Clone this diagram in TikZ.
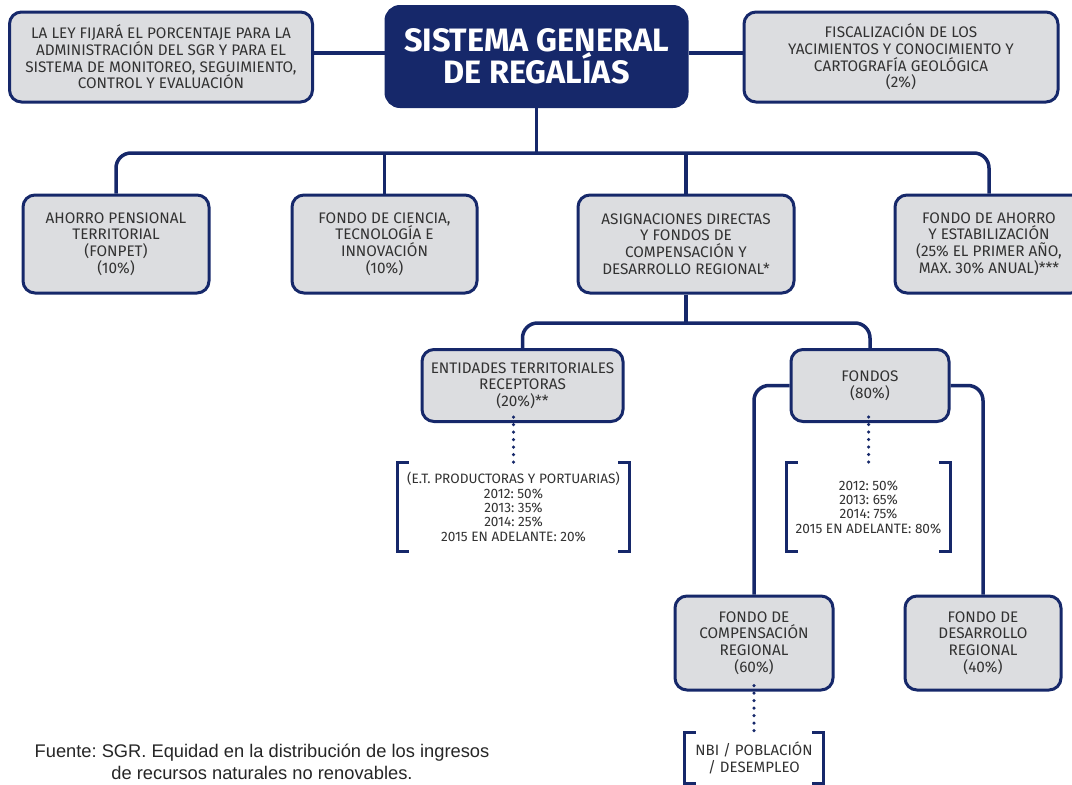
\documentclass[tikz,border=0pt]{standalone}
\usepackage{fontspec}
\setmainfont{Fira Sans}
\newfontfamily\fuentefont{Liberation Sans}
\definecolor{navy}{RGB}{22,40,106}
\definecolor{boxgray}{RGB}{220,221,224}
\definecolor{txt}{RGB}{50,50,50}
\tikzset{
  box/.style={draw=navy, line width=3pt, fill=boxgray, rounded corners=12pt,
    align=center, text=txt, inner sep=0pt, font=\fontsize{15.3}{16.6}\selectfont},
  titlebox/.style={draw=navy, line width=3pt, fill=navy, rounded corners=14pt,
    align=center, text=white, inner sep=0pt, font=\fontsize{32.4}{30.5}\selectfont\bfseries},
  conn/.style={draw=navy, line width=3.5pt},
  dotline/.style={draw=navy, line width=3.5pt, line cap=round, dash pattern=on 0pt off 7.5pt},
  brk/.style={draw=navy, line width=3pt},
  brnode/.style={inner sep=0pt, align=center, text=txt, font=\fontsize{13.6}{14.3}\selectfont}
}
\begin{document}
\frenchspacing
\begin{tikzpicture}[x=1pt,y=-1pt]
\useasboundingbox (0,0) rectangle (1072,785);
\clip (0,0) rectangle (1072,785);
\fill[white] (0,0) rectangle (1072,785);

% top row
\node[box, minimum width=303, minimum height=90] (ley) at (161,57)
  {LA LEY FIJARÁ EL PORCENTAJE PARA LA\\ADMINISTRACIÓN DEL SGR Y PARA EL\\SISTEMA DE MONITOREO, SEGUIMIENTO,\\CONTROL Y EVALUACIÓN};
\node[titlebox, minimum width=301, minimum height=100] (sgr) at (536.5,56.5)
  {SISTEMA GENERAL\\DE REGALÍAS};
\node[box, minimum width=314, minimum height=90] (fis) at (901,57)
  {FISCALIZACIÓN DE LOS\\YACIMIENTOS Y CONOCIMIENTO Y\\CARTOGRAFÍA GEOLÓGICA\\(2\%)};

% second row
\node[box, minimum width=186, minimum height=98] (aho) at (116,244)
  {AHORRO PENSIONAL\\TERRITORIAL\\(FONPET)\\(10\%)};
\node[box, minimum width=185, minimum height=98] (cie) at (384.5,244)
  {FONDO DE CIENCIA,\\TECNOLOGÍA E\\INNOVACIÓN\\(10\%)};
\node[box, minimum width=216, minimum height=98] (asi) at (686,244)
  {ASIGNACIONES DIRECTAS\\Y FONDOS DE\\COMPENSACIÓN Y\\DESARROLLO REGIONAL*};
\node[box, minimum width=188, minimum height=98] (fae) at (989,244)
  {FONDO DE AHORRO\\Y ESTABILIZACIÓN\\(25\% EL PRIMER AÑO,\\MAX. 30\% ANUAL)***};

% third row
\node[box, minimum width=201, minimum height=72] (ent) at (522.5,385.5)
  {ENTIDADES TERRITORIALES\\RECEPTORAS\\(20\%)**};
\node[box, minimum width=158, minimum height=72] (fon) at (870,385.5)
  {FONDOS\\(80\%)};

% brackets
\node[brnode, minimum width=231, minimum height=88] (etb) at (513.5,507)
  {(E.T. PRODUCTORAS Y PORTUARIAS)\\2012: 50\%\\2013: 35\%\\2014: 25\%\\2015 EN ADELANTE: 20\%};
\node[brnode, minimum width=163, minimum height=88] (fob) at (868.5,507)
  {2012: 50\%\\2013: 65\%\\2014: 75\%\\2015 EN ADELANTE: 80\%};

% fourth row
\node[box, minimum width=158, minimum height=94] (fcr) at (754,643)
  {FONDO DE\\COMPENSACIÓN\\REGIONAL\\(60\%)};
\node[box, minimum width=156, minimum height=94] (fdr) at (983,643)
  {FONDO DE\\DESARROLLO\\REGIONAL\\(40\%)};
\node[brnode, minimum width=138, minimum height=50, font=\fontsize{15}{16.5}\selectfont] (nbi) at (754,758)
  {NBI / POBLACIÓN\\/ DESEMPLEO};

% source
\node[align=center, inner sep=0pt, text=black!85, font=\fuentefont\fontsize{18.3}{22}\selectfont] (src) at (262,762)
  {Fuente: SGR. Equidad en la distribución de los ingresos\\de recursos naturales no renovables.};

% connectors top
\coordinate (cy) at (0,53);
\draw[conn] (ley.east |- cy) -- (sgr.west |- cy);
\draw[conn] (sgr.east |- cy) -- (fis.west |- cy);
\coordinate (bar1) at (536.5,153);
\draw[conn] (sgr.south) -- (bar1);
\draw[conn, rounded corners=15pt] (aho.north) |- (bar1) -| (fae.north);
\draw[conn] (cie.north) -- (cie.north |- bar1);
\draw[conn] (asi.north) -- (asi.north |- bar1);

% second level
\coordinate (bar2) at (686,323);
\draw[conn] (asi.south) -- (bar2);
\draw[conn, rounded corners=15pt] (ent.north) |- (bar2) -| (fon.north);
\draw[conn, rounded corners=15pt] (fon.west) -| (fcr.north);
\draw[conn, rounded corners=15pt] (fon.east) -| (fdr.north);

% dotted
\draw[dotline] ([yshift=6pt]ent.south -| etb.north) -- ([yshift=-3pt]etb.north);
\draw[dotline] ([yshift=6pt]fon.south -| fob.north) -- ([yshift=-3pt]fob.north);
\draw[dotline] ([yshift=6pt]fcr.south) -- ([yshift=-3pt]fcr.south |- nbi.north);

% bracket shapes
\foreach \b in {etb,fob,nbi}{
  \draw[brk] ([xshift=11pt]\b.north west) -| (\b.south west) -- ++(11,0);
  \draw[brk] ([xshift=-11pt]\b.north east) -| (\b.south east) -- ++(-11,0);
}
\end{tikzpicture}
\end{document}
